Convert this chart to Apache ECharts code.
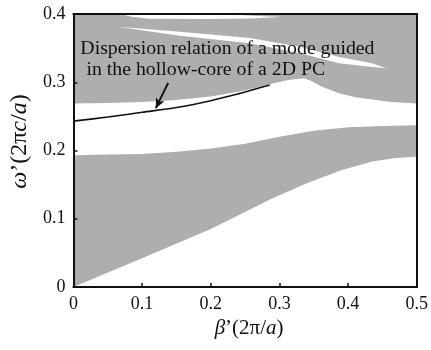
<!DOCTYPE html>
<html>
<head>
<meta charset="utf-8">
<script src="https://cdn.jsdelivr.net/npm/echarts@6/dist/echarts.min.js"></script>
<style>
  html, body { margin: 0; padding: 0; background: #fff; }
  #chart { width: 431px; height: 350px; }
</style>
</head>
<body>
<div id="chart"></div>
<script>
// band edges, as [beta, omega]
const band1Lower = [[0, 0], [0.1, 0.042], [0.2, 0.085], [0.25, 0.110], [0.29, 0.130], [0.34, 0.152], [0.39, 0.171], [0.435, 0.184], [0.47, 0.189], [0.5, 0.191]]
const band1Upper = [[0, 0.193], [0.05, 0.194], [0.1, 0.195], [0.15, 0.198], [0.2, 0.203], [0.25, 0.210], [0.3, 0.220], [0.35, 0.229], [0.4, 0.234], [0.45, 0.236], [0.5, 0.237]]
const band2Lower = [[0, 0.269], [0.05, 0.2695], [0.1, 0.271], [0.15, 0.274], [0.2, 0.279], [0.25, 0.288], [0.29, 0.298], [0.315, 0.3035], [0.336, 0.306], [0.348, 0.301], [0.362, 0.2935], [0.387, 0.284], [0.411, 0.278], [0.459, 0.2715], [0.5, 0.269]]
const gap1Top = [[0.068, 0.4], [0.2, 0.4], [0.24, 0.3985], [0.27, 0.397], [0.304, 0.3956]]
const gap1Bottom = [[0.068, 0.4], [0.085, 0.396], [0.11, 0.393], [0.2, 0.3925], [0.257, 0.3935], [0.28, 0.3945], [0.304, 0.3956]]
const gap2Top = [[0.065, 0.3814], [0.155, 0.374], [0.257, 0.365], [0.329, 0.352], [0.387, 0.337], [0.435, 0.328], [0.455, 0.3204]]
const gap2Bottom = [[0.065, 0.3814], [0.155, 0.368], [0.257, 0.357], [0.329, 0.343], [0.387, 0.328], [0.435, 0.3222], [0.455, 0.3204]]

// guided mode
const modeBeta = [0, 0.05, 0.1, 0.15, 0.2, 0.24, 0.265, 0.286]
const modeOmega = [0.243, 0.249, 0.256, 0.263, 0.273, 0.283, 0.290, 0.296]

const arrowFrom = [0.138, 0.299]
const arrowTo = [0.120, 0.262]

const noteLines = ["Dispersion relation of a mode guided", "in the hollow-core of a 2D PC"]
const noteAnchors = [[0.0101, 0.3355], [0.019, 0.305]]

const GRAY = "#aeaeae"
const FONT = "'Liberation Serif', 'Times New Roman', serif"

const upperRegion = band2Lower.concat([[0.5, 0.4], [0, 0.4]])
const lowerRegion = band1Lower.concat(band1Upper.slice().reverse())
const gap1 = gap1Top.concat(gap1Bottom.slice(1, -1).reverse())
const gap2 = gap2Top.concat(gap2Bottom.slice(1, -1).reverse())

function polygonSeries(points, color, z) {
  return {
    type: "custom",
    coordinateSystem: "cartesian2d",
    silent: true,
    z: z,
    data: [points[0]],
    renderItem: (params, api) => ({
      type: "polygon",
      shape: { points: points.map((p) => api.coord(p)) },
      style: { fill: color },
    }),
  }
}

const frameAxis = {
  z: 10,
  axisLine: { show: true, onZero: false, lineStyle: { color: "#111", width: 2 } },
  axisTick: { show: false },
  axisLabel: { show: false },
  splitLine: { show: false },
}

const chart = echarts.init(document.getElementById("chart"))

chart.setOption({
  animation: false,
  grid: { left: 73, right: 13, top: 14, bottom: 63 },
  xAxis: [
    {
      type: "value",
      min: 0,
      max: 0.5,
      interval: 0.1,
      z: 10,
      name: "{it|β}’(2π/{it|a})",
      nameLocation: "middle",
      nameGap: 21,
      nameTextStyle: {
        fontFamily: FONT,
        fontSize: 21,
        color: "#111",
        verticalAlign: "top",
        padding: [0, 0, 0, 8],
        rich: { it: { fontFamily: FONT, fontSize: 21, fontStyle: "italic", color: "#111" } },
      },
      axisLine: { onZero: false, lineStyle: { color: "#111", width: 2 } },
      axisTick: { inside: true, length: 4, lineStyle: { color: "#111", width: 1.5 } },
      axisLabel: { fontFamily: FONT, fontSize: 18, color: "#111", margin: 8 },
      splitLine: { show: false },
    },
    Object.assign({ type: "value", min: 0, max: 0.5, position: "top" }, frameAxis),
  ],
  yAxis: [
    {
      type: "value",
      min: 0,
      max: 0.4,
      interval: 0.1,
      z: 10,
      name: "{it|ω}’(2π{it|c}/{it|a})",
      nameLocation: "middle",
      nameGap: 40,
      nameRotate: 90,
      nameTextStyle: {
        fontFamily: FONT,
        fontSize: 24,
        color: "#111",
        padding: [0, 0, 0, 18],
        rich: { it: { fontFamily: FONT, fontSize: 24, fontStyle: "italic", color: "#111" } },
      },
      axisLine: { show: true, onZero: false, lineStyle: { color: "#111", width: 2 } },
      axisTick: { show: true, inside: true, length: 4, lineStyle: { color: "#111", width: 1.5 } },
      axisLabel: { fontFamily: FONT, fontSize: 18, color: "#111", margin: 8 },
      splitLine: { show: false },
    },
    Object.assign({ type: "value", min: 0, max: 0.4, position: "right" }, frameAxis),
  ],
  series: [
    polygonSeries(lowerRegion, GRAY, 2),
    polygonSeries(upperRegion, GRAY, 2),
    polygonSeries(gap1, "#fff", 3),
    polygonSeries(gap2, "#fff", 3),
    {
      type: "line",
      z: 4,
      silent: true,
      smooth: 0.3,
      symbol: "none",
      lineStyle: { color: "#111", width: 1.6 },
      data: modeBeta.map((b, i) => [b, modeOmega[i]]),
      markLine: {
        silent: true,
        symbol: ["none", "arrow"],
        symbolSize: [7, 10],
        label: { show: false },
        lineStyle: { color: "#111", width: 2, type: "solid" },
        data: [[{ coord: arrowFrom }, { coord: arrowTo }]],
      },
    },
  ],
})

// annotation text, placed from data coordinates
chart.setOption({
  graphic: noteLines.map((t, i) => {
    const p = chart.convertToPixel({ gridIndex: 0 }, noteAnchors[i])
    return {
      type: "text",
      x: p[0],
      y: p[1],
      scaleX: 1.1,
      z: 20,
      style: {
        text: t,
        fontFamily: FONT,
        fontSize: 18,
        fill: "#111",
        verticalAlign: "bottom",
      },
    }
  }),
})
</script>
</body>
</html>
